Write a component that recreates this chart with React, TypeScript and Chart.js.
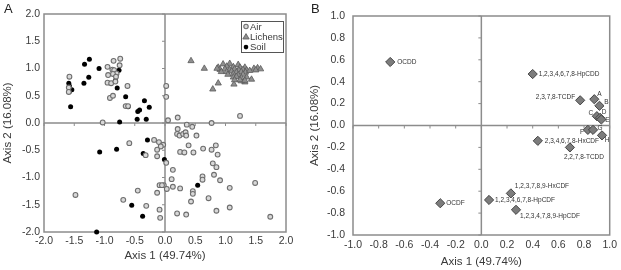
import React, { useEffect, useRef } from 'react';
import { Chart, registerables } from 'chart.js';

Chart.register(...registerables);

const FONT = '"Liberation Sans", Arial, Helvetica, sans-serif';
const TEXT = '#3a3a3a';
const FRAME = '#8c8c8c';

// ---------- Panel A data ----------
const airX = [-1.58, -1.59, -1.59, -0.95, -0.94, -0.85, -0.74, -0.75, -0.87, -0.84, -0.80, -0.86, -0.81, -0.95, -0.89, -0.82, -0.62, -0.91, -0.86, -0.65, -0.61, -1.03, 0.02, 0.02, 0.05, 0.21, 0.77, 1.24,
  0.21, 0.36, 0.45, 0.20, 0.24, 0.30, 0.34, 0.35, 0.52,
  -0.59, -0.18, -0.10, -0.03, -0.07, -0.13, -0.32, -0.13, 0.02,
  0.39, 0.25, 0.32, 0.47, 0.63, 0.84, 0.77, 0.87,
  0.13, 0.79, 0.85, 0.62, 0.62, 0.81, 0.91, 0.11,
  -0.09, -0.02, -0.05, 0.03, 0.13, 0.25, -0.45, -0.13, 0.46, 0.46, 1.07, 1.49, -1.48,
  -0.69, -0.31, 0.43, 0.72, -0.09, 1.07, 0.85, 0.20, 0.35, -0.08, 1.74];
const airY = [0.85, 0.65, 0.57, 1.03, 0.88, 1.14, 1.18, 1.06, 0.98, 0.97, 0.91, 0.90, 0.85, 0.74, 0.73, 0.76, 0.68, 0.46, 0.50, 0.31, 0.31, 0.01, 0.68, 0.48, 0.05, 0.10, 0.00, 0.13,
  -0.11, -0.03, -0.07, -0.20, -0.23, -0.20, -0.17, -0.23, -0.23,
  -0.37, -0.31, -0.35, -0.40, -0.43, -0.49, -0.59, -0.61, -0.73,
  -0.41, -0.53, -0.54, -0.54, -0.47, -0.41, -0.49, -0.58,
  -0.86, -0.74, -0.81, -0.98, -1.04, -0.95, -1.05, -1.03,
  -1.14, -1.14, -1.14, -1.21, -1.17, -1.20, -1.24, -1.28, -1.25, -1.30, -1.19, -1.10, -1.32,
  -1.41, -1.52, -1.44, -1.38, -1.59, -1.55, -1.61, -1.66, -1.68, -1.74, -1.72];

const lichensX = [0.43, 0.65, 0.79, 0.88, 1.14, 1.32, 1.43, 1.26,
  0.96, 1.07, 1.21,
  0.88, 1.02, 1.13, 1.24, 1.32, 1.47, 1.53, 1.58,
  0.91, 0.99, 1.07, 1.15, 1.22, 1.29, 1.35,
  0.93, 1.02, 1.10, 1.18, 1.26, 1.33,
  1.04, 1.13, 1.21, 1.29,
  1.13, 1.18, 1.26, 1.35,
  1.15, 1.24, 1.32,
  1.50, 0.86, 1.40];
const lichensY = [1.14, 1.00, 0.62, 0.73, 0.71, 0.75, 0.80, 0.77,
  1.08, 1.09, 1.07,
  1.02, 1.04, 1.03, 1.02, 1.02, 1.00, 1.01, 0.99,
  0.98, 0.99, 0.98, 0.99, 0.97, 0.98, 0.97,
  0.94, 0.94, 0.95, 0.93, 0.94, 0.93,
  0.89, 0.90, 0.88, 0.89,
  0.84, 0.85, 0.83, 0.84,
  0.79, 0.79, 0.78,
  0.97, 1.00, 0.96];

const soilX = [-1.59, -1.58, -1.54, -1.58, -1.56, -1.33, -1.25, -1.26, -1.34, -1.09, -0.76, -0.82, -0.79, -0.65, -0.61, -0.34, -0.26, -0.42, -0.45, -0.46, -0.31, -0.75,
  -0.29, -1.08, -0.80, -0.36, -0.01, 0.54, -0.55, -0.37, -1.13];
const soilY = [0.73, 0.68, 0.61, 0.58, 0.30, 1.08, 1.17, 0.84, 0.73, 1.00, 0.97, 0.78, 0.64, 0.48, 0.30, 0.41, 0.29, 0.24, 0.21, 0.07, 0.07, 0.02,
  -0.31, -0.53, -0.48, -0.56, -0.67, -1.14, -1.51, -1.71, -2.00];

const seriesA = ['Air', 'Lichens', 'Soil'];

// ---------- Panel B data ----------
const congenerLabels = ['OCDD', '1,2,3,4,6,7,8-HpCDD', '2,3,7,8-TCDF', 'A', 'B', 'C', 'D', 'E', 'F', 'G', 'H',
  '2,3,4,6,7,8-HxCDF', '2,2,7,8-TCDD', '1,2,3,7,8,9-HxCDF', '1,2,3,4,6,7,8-HpCDF', '1,2,3,4,7,8,9-HpCDF', 'OCDF'];
const congenerX = [-0.71, 0.40, 0.77, 0.88, 0.92, 0.90, 0.925, 0.935, 0.83, 0.87, 0.94, 0.44, 0.69, 0.23, 0.06, 0.27, -0.32];
const congenerY = [0.58, 0.47, 0.23, 0.24, 0.18, 0.085, 0.07, 0.055, -0.04, -0.04, -0.09, -0.14, -0.20, -0.62, -0.68, -0.77, -0.71];

// label placement (style): dx, dy in px, text alignment
const labelOffsets: [number, number, CanvasTextAlign][] = [
  [7, 0, 'left'], [6, 0, 'left'], [-5, -3, 'right'],
  [5, -5, 'center'], [7, -4, 'center'], [-6, -3, 'center'], [4, -6, 'center'], [6, 1, 'center'],
  [-6, 2, 'center'], [7, -2, 'center'], [5, 5, 'center'],
  [7, 0, 'left'], [-6, 10, 'left'], [4, -7, 'left'], [6, 0, 'left'], [4, 6, 'left'], [6, 0, 'left'],
];

const toPts = (xs: number[], ys: number[]) => xs.map((x, i) => ({ x, y: ys[i] }));

const framePlugin = {
  id: 'frameZero',
  beforeDatasetsDraw(chart: any) {
    const { ctx, chartArea: a, scales } = chart;
    const x = scales.x, y = scales.y;
    const x0 = x.getPixelForValue(0);
    const y0 = y.getPixelForValue(0);
    ctx.save();
    ctx.strokeStyle = FRAME;
    ctx.lineWidth = 1.5;
    ctx.beginPath();
    ctx.moveTo(x0, a.top); ctx.lineTo(x0, a.bottom);
    ctx.moveTo(a.left, y0); ctx.lineTo(a.right, y0);
    ctx.stroke();
    ctx.lineWidth = 1;
    ctx.beginPath();
    y.ticks.forEach((t: any) => { const py = y.getPixelForValue(t.value); ctx.moveTo(x0 - 3, py); ctx.lineTo(x0, py); });
    x.ticks.forEach((t: any) => { const px = x.getPixelForValue(t.value); ctx.moveTo(px, y0); ctx.lineTo(px, y0 + 3); });
    ctx.stroke();
    ctx.lineWidth = 1.5;
    ctx.strokeRect(a.left, a.top, a.right - a.left, a.bottom - a.top);
    ctx.restore();
  },
};

const panelLetterPlugin = {
  id: 'panelLetter',
  afterDraw(chart: any, _args: any, opts: any) {
    const { ctx } = chart;
    ctx.save();
    ctx.fillStyle = '#222';
    ctx.font = `13px ${FONT}`;
    ctx.textAlign = 'left';
    ctx.textBaseline = 'top';
    ctx.fillText(opts.text || '', 4, 3);
    ctx.restore();
  },
};

function drawMarker(ctx: CanvasRenderingContext2D, kind: string, x: number, y: number) {
  ctx.beginPath();
  if (kind === 'Air') {
    ctx.arc(x, y, 2.2, 0, Math.PI * 2);
    ctx.fillStyle = '#d8d8d8'; ctx.fill();
    ctx.strokeStyle = '#6e6e6e'; ctx.lineWidth = 1.1; ctx.stroke();
  } else if (kind === 'Lichens') {
    ctx.moveTo(x, y - 3.2); ctx.lineTo(x + 3.2, y + 2.2); ctx.lineTo(x - 3.2, y + 2.2); ctx.closePath();
    ctx.fillStyle = '#8f8f8f'; ctx.fill();
    ctx.strokeStyle = '#5a5a5a'; ctx.lineWidth = 0.8; ctx.stroke();
  } else {
    ctx.arc(x, y, 2.3, 0, Math.PI * 2);
    ctx.fillStyle = '#000'; ctx.fill();
  }
}

const legendAPlugin = {
  id: 'legendA',
  afterDatasetsDraw(chart: any) {
    const { ctx, chartArea: a } = chart;
    const bw = 42, bh = 31;
    const bx = a.right - 3 - bw, by = a.top + 7;
    ctx.save();
    ctx.fillStyle = '#fff';
    ctx.fillRect(bx, by, bw, bh);
    ctx.strokeStyle = '#555';
    ctx.lineWidth = 1;
    ctx.strokeRect(bx + 0.5, by + 0.5, bw, bh);
    ctx.font = `9.5px ${FONT}`;
    ctx.textBaseline = 'middle';
    ctx.textAlign = 'left';
    seriesA.forEach((name, i) => {
      const cy = by + 5.5 + i * 10.3;
      drawMarker(ctx, name, bx + 5, cy);
      ctx.fillStyle = TEXT;
      ctx.fillText(name, bx + 9, cy + 0.5);
    });
    ctx.restore();
  },
};

const pointLabelsPlugin = {
  id: 'pointLabels',
  afterDatasetsDraw(chart: any) {
    const { ctx } = chart;
    const meta = chart.getDatasetMeta(0);
    ctx.save();
    ctx.fillStyle = '#333';
    ctx.font = `6.5px ${FONT}`;
    ctx.textBaseline = 'middle';
    meta.data.forEach((el: any, i: number) => {
      const [dx, dy, align] = labelOffsets[i];
      ctx.textAlign = align;
      ctx.fillText(congenerLabels[i], el.x + dx, el.y + dy);
    });
    ctx.restore();
  },
};

function axisCfg(min: number, max: number, step: number, title: string, horizontal: boolean, size: number, tickPad: number, titlePad: any) {
  return {
    type: 'linear',
    min, max,
    ticks: {
      stepSize: step,
      autoSkip: false,
      maxRotation: 0,
      padding: tickPad,
      color: TEXT,
      font: { family: FONT, size: 10.5 },
      callback: (v: any) => Number(v).toFixed(1),
    },
    grid: { display: false, drawTicks: false },
    border: { display: false },
    title: { display: true, text: title, color: TEXT, font: { family: FONT, size: 11.5 }, padding: titlePad },
    afterFit: (s: any) => { if (horizontal) s.height = size; else s.width = size; },
  };
}

function PanelA() {
  const ref = useRef<HTMLCanvasElement>(null);
  useEffect(() => {
    const chart = new Chart(ref.current!, {
      type: 'scatter',
      data: {
        datasets: [
          { label: 'Air', data: toPts(airX, airY), pointStyle: 'circle', pointRadius: 2.4, borderWidth: 1.1, borderColor: '#6e6e6e', backgroundColor: '#d8d8d8', clip: false } as any,
          { label: 'Lichens', data: toPts(lichensX, lichensY), pointStyle: 'triangle', pointRadius: 3.6, borderWidth: 0.8, borderColor: '#5a5a5a', backgroundColor: '#8f8f8f', clip: false },
          { label: 'Soil', data: toPts(soilX, soilY), pointStyle: 'circle', pointRadius: 2.5, borderWidth: 0, borderColor: '#000', backgroundColor: '#000', clip: false },
        ],
      },
      options: {
        responsive: false,
        animation: false,
        devicePixelRatio: 1,
        layout: { padding: { top: 14, right: 24, left: 0, bottom: 0 } },
        plugins: { legend: { display: false }, tooltip: { enabled: false }, panelLetter: { text: 'A' } } as any,
        scales: {
          x: axisCfg(-2, 2, 0.5, 'Axis 1 (49.74%)', true, 38, 3, { top: 0, bottom: 7 }),
          y: axisCfg(-2, 2, 0.5, 'Axis 2 (16.08%)', false, 44, 4, { top: 1, bottom: 0 }),
        } as any,
      },
      plugins: [framePlugin, legendAPlugin, panelLetterPlugin],
    });
    return () => chart.destroy();
  }, []);
  return <canvas ref={ref} width={310} height={270} style={{ position: 'absolute', left: 0, top: 0, width: 310, height: 270 }} />;
}

function PanelB() {
  const ref = useRef<HTMLCanvasElement>(null);
  useEffect(() => {
    const chart = new Chart(ref.current!, {
      type: 'scatter',
      data: {
        datasets: [
          { label: 'Congeners', data: toPts(congenerX, congenerY), pointStyle: 'rectRot', pointRadius: 4.6, borderWidth: 1, borderColor: '#444', backgroundColor: '#7c7c7c', clip: false } as any,
        ],
      },
      options: {
        responsive: false,
        animation: false,
        devicePixelRatio: 1,
        layout: { padding: { top: 16, right: 8, left: 0, bottom: 0 } },
        plugins: { legend: { display: false }, tooltip: { enabled: false }, panelLetter: { text: 'B' } } as any,
        scales: {
          x: axisCfg(-1, 1, 0.2, 'Axis 1 (49.74%)', true, 35, 4, { top: 0, bottom: 1 }),
          y: axisCfg(-1, 1, 0.2, 'Axis 2 (16.08%)', false, 46, 8, { top: 1, bottom: 0 }),
        } as any,
      },
      plugins: [framePlugin, pointLabelsPlugin, panelLetterPlugin],
    });
    return () => chart.destroy();
  }, []);
  return <canvas ref={ref} width={314} height={270} style={{ position: 'absolute', left: 307, top: 0, width: 314, height: 270 }} />;
}

export default function App() {
  return (
    <div style={{ position: 'fixed', left: 0, top: 0, width: 621, height: 270, background: '#fff', overflow: 'hidden' }}>
      <PanelA />
      <PanelB />
    </div>
  );
}
